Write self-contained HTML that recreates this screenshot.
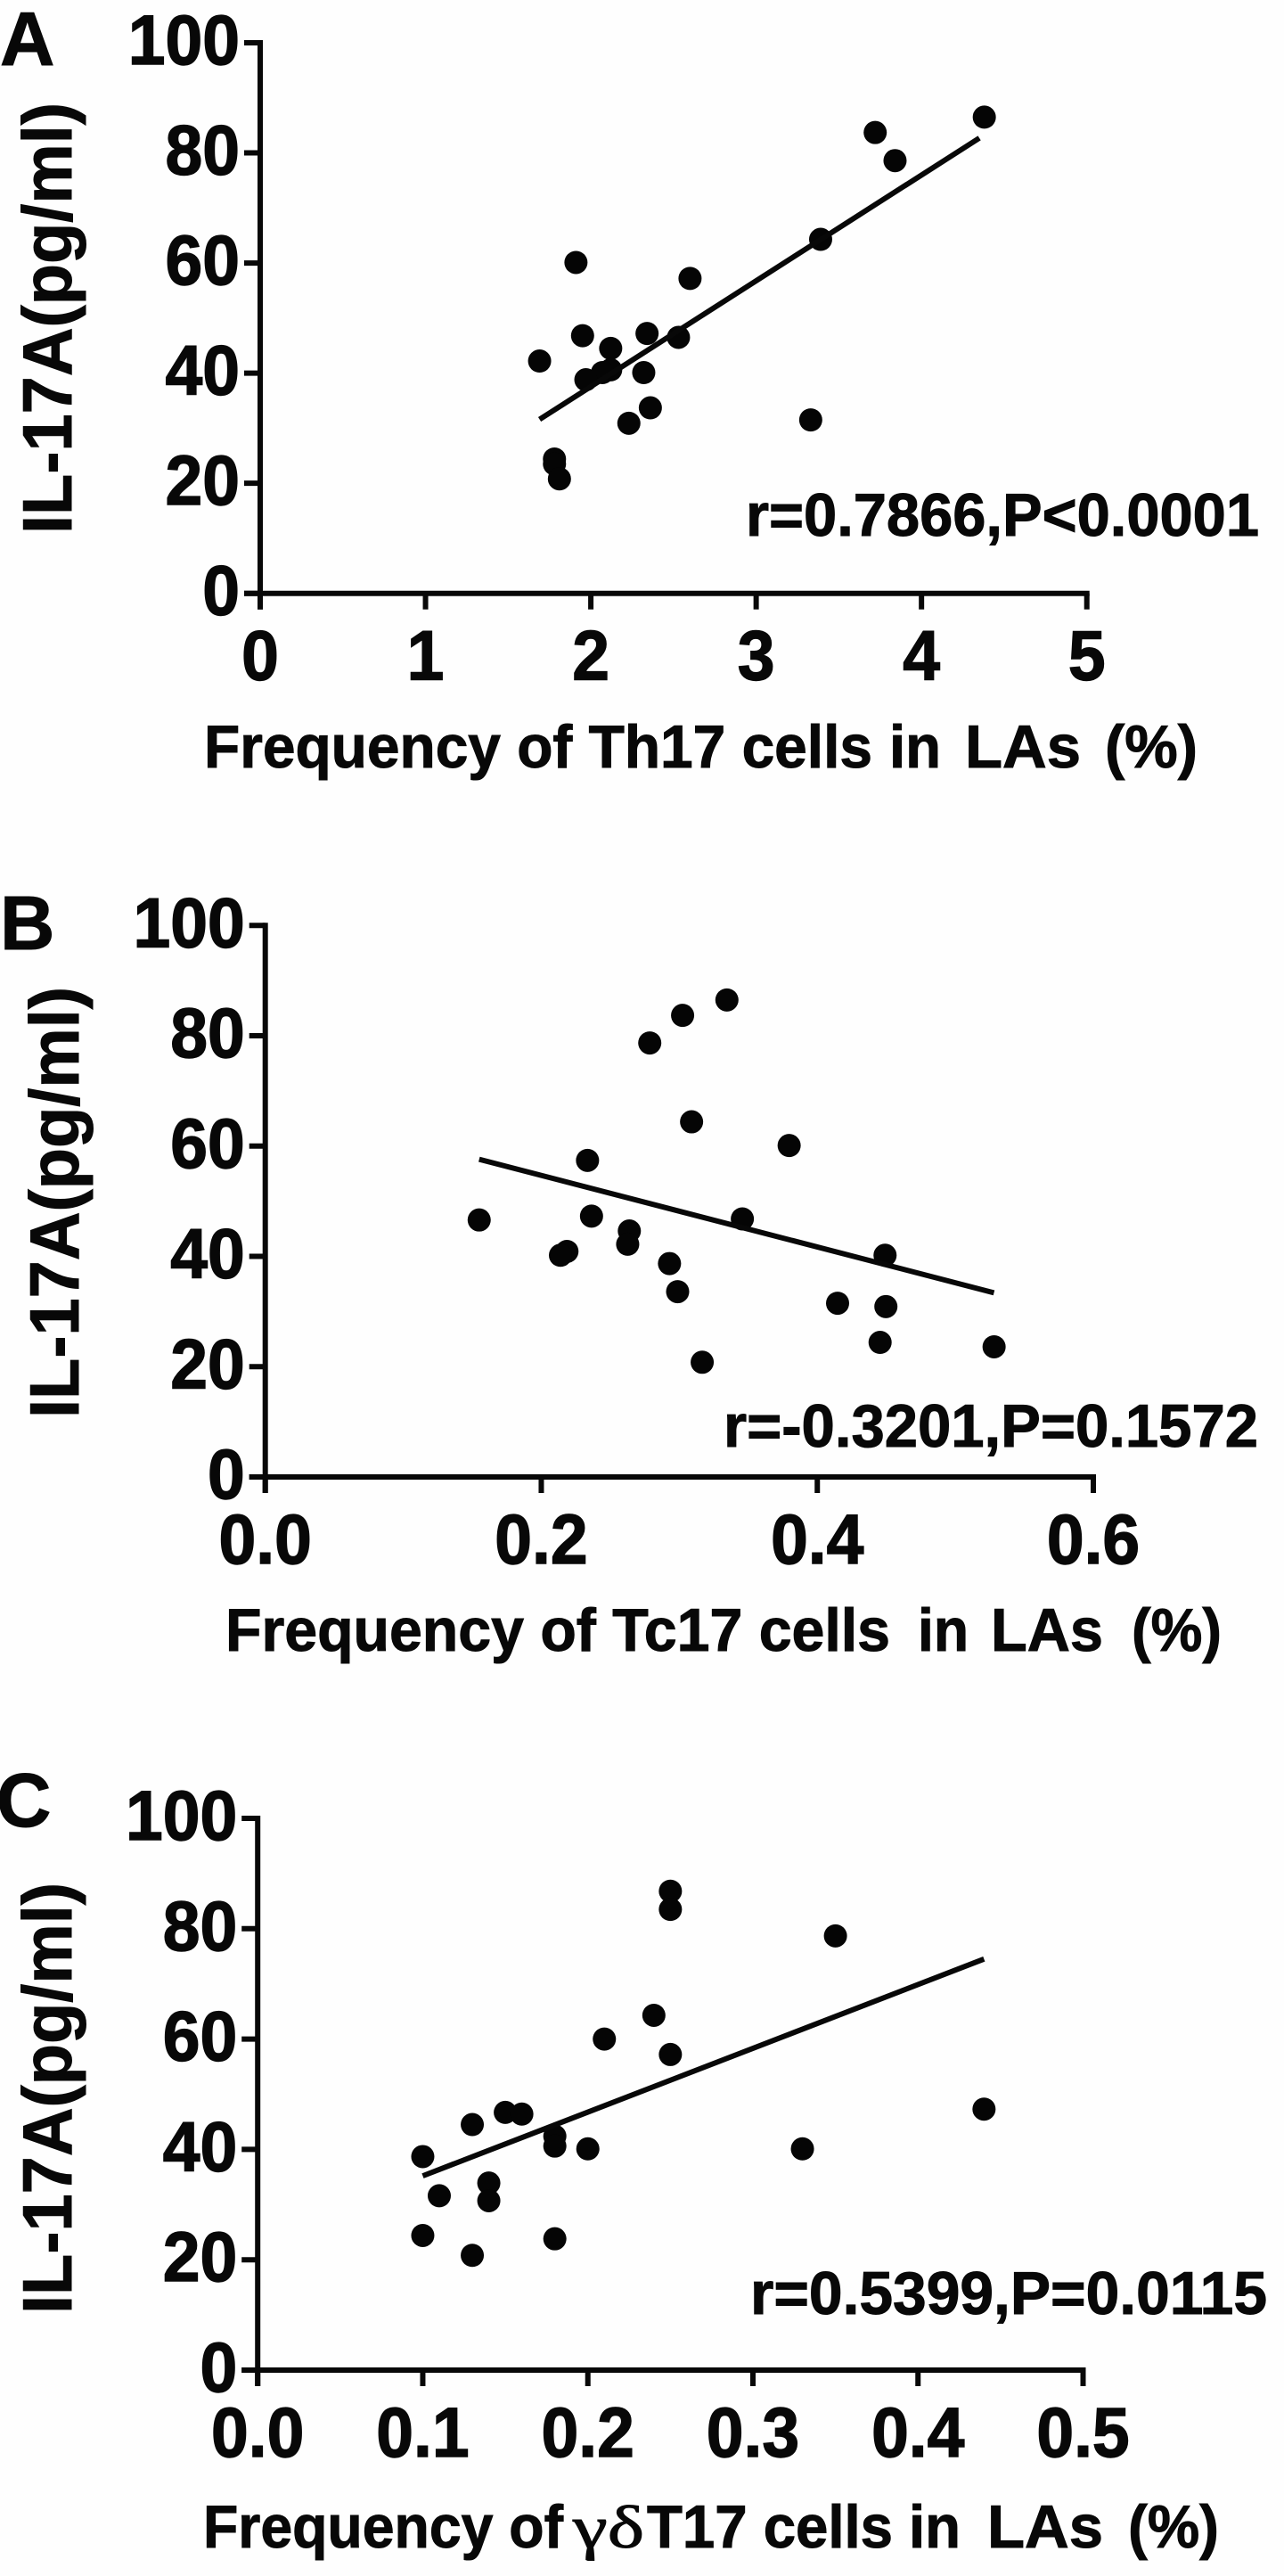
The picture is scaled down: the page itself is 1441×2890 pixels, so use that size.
<!DOCTYPE html>
<html lang="en">
<head>
<meta charset="utf-8">
<title>IL-17A correlation scatter plots</title>
<style>
html,body{margin:0;padding:0;background:#fff;width:1441px;height:2890px;overflow:hidden}
svg{display:block}
text{font-family:"Liberation Sans",Arial,sans-serif;font-weight:bold;fill:#080808;stroke:#080808;stroke-width:1;white-space:pre}
.tick{font-size:79px;stroke-width:1.4px}
.title{font-size:68px}
.stat{font-size:68px}
.letter{font-size:85px}
.ylab{font-size:78px}
</style>
</head>
<body>
<svg id="figure" xmlns="http://www.w3.org/2000/svg" width="1441" height="2890" viewBox="0 0 1441 2890">
  <rect x="0" y="0" width="1441" height="2890" fill="#fefefe"/>

  <g id="panel-a">
    <text class="letter" x="0" y="73">A</text>
    <text class="ylab" transform="translate(80,599) rotate(-90)" textLength="484" lengthAdjust="spacingAndGlyphs">IL-17A(pg/ml)</text>
    <text class="title" x="229" y="861" textLength="750" lengthAdjust="spacingAndGlyphs">Frequency of Th17 cells</text>
    <text class="title" x="998" y="861" textLength="58" lengthAdjust="spacingAndGlyphs">in</text>
    <text class="title" x="1083" y="861" textLength="130" lengthAdjust="spacingAndGlyphs">LAs</text>
    <text class="title" x="1240" y="861" textLength="104" lengthAdjust="spacingAndGlyphs">(%)</text>
    <text class="stat" x="837" y="601" textLength="576" lengthAdjust="spacingAndGlyphs">r=0.7866,P&lt;0.0001</text>
  </g>

  <g id="panel-b">
    <text class="letter" x="0" y="1065">B</text>
    <text class="ylab" transform="translate(88,1591) rotate(-90)" textLength="484" lengthAdjust="spacingAndGlyphs">IL-17A(pg/ml)</text>
    <text class="title" x="253" y="1852" textLength="746" lengthAdjust="spacingAndGlyphs">Frequency of Tc17 cells</text>
    <text class="title" x="1030" y="1852" textLength="57" lengthAdjust="spacingAndGlyphs">in</text>
    <text class="title" x="1112" y="1852" textLength="126" lengthAdjust="spacingAndGlyphs">LAs</text>
    <text class="title" x="1270" y="1852" textLength="101" lengthAdjust="spacingAndGlyphs">(%)</text>
    <text class="stat" x="812" y="1623" textLength="600" lengthAdjust="spacingAndGlyphs">r=-0.3201,P=0.1572</text>
  </g>

  <g id="panel-c">
    <text class="letter" x="-4" y="2049">C</text>
    <text class="ylab" transform="translate(80,2596) rotate(-90)" textLength="484" lengthAdjust="spacingAndGlyphs">IL-17A(pg/ml)</text>
    <text class="title" x="228" y="2858" textLength="404" lengthAdjust="spacingAndGlyphs">Frequency of</text>
    <text class="title" x="643" y="2858" textLength="80" lengthAdjust="spacingAndGlyphs" style="font-family:'Liberation Serif',serif;font-weight:normal">γδ</text>
    <text class="title" x="726" y="2858" textLength="276" lengthAdjust="spacingAndGlyphs">T17 cells</text>
    <text class="title" x="1020" y="2858" textLength="58" lengthAdjust="spacingAndGlyphs">in</text>
    <text class="title" x="1108" y="2858" textLength="130" lengthAdjust="spacingAndGlyphs">LAs</text>
    <text class="title" x="1266" y="2858" textLength="102" lengthAdjust="spacingAndGlyphs">(%)</text>
    <text class="stat" x="842" y="2596" textLength="580" lengthAdjust="spacingAndGlyphs">r=0.5399,P=0.0115</text>
  </g>
</svg>

<script>
// Shared y axis
const yTicks = ['0', '20', '40', '60', '80', '100'];

// Panel A
const xTicksA = ['0', '1', '2', '3', '4', '5'];
const th17Freq = [4.38, 3.72, 3.84, 3.39, 1.91, 2.60, 1.95, 2.34, 2.53, 2.12, 1.69, 2.32, 2.12, 2.07, 1.97, 2.36, 2.23, 3.33, 1.78, 1.78, 1.81];
const il17aA = [86.5, 83.7, 78.6, 64.3, 60.1, 57.2, 46.8, 47.2, 46.5, 44.5, 42.2, 40.1, 40.6, 40.1, 38.8, 33.7, 30.9, 31.5, 24.4, 23.5, 20.8];
const trendXA = [1.69, 4.35];
const trendYA = [31.6, 82.7];

// Panel B
const xTicksB = ['0.0', '0.2', '0.4', '0.6'];
const tc17Freq = [0.3345, 0.3024, 0.2786, 0.3089, 0.3796, 0.2335, 0.155, 0.2364, 0.3457, 0.2638, 0.2626, 0.2186, 0.2139, 0.4491, 0.2929, 0.2988, 0.4147, 0.4497, 0.4455, 0.5281, 0.3166];
const il17aB = [86.5, 83.7, 78.7, 64.4, 60.1, 57.4, 46.6, 47.3, 46.8, 44.6, 42.2, 40.9, 40.2, 40.2, 38.7, 33.6, 31.5, 30.9, 24.4, 23.6, 20.8];
const trendXB = [0.155, 0.528];
const trendYB = [57.6, 33.4];

// Panel C
const xTicksC = ['0.0', '0.1', '0.2', '0.3', '0.4', '0.5'];
const gdT17Freq = [0.25, 0.25, 0.35, 0.24, 0.21, 0.25, 0.44, 0.15, 0.16, 0.13, 0.18, 0.18, 0.20, 0.33, 0.10, 0.14, 0.14, 0.11, 0.10, 0.18, 0.13];
const il17aC = [86.8, 83.5, 78.7, 64.3, 60.0, 57.2, 47.3, 46.7, 46.4, 44.5, 42.4, 40.6, 40.1, 40.1, 38.7, 33.9, 30.7, 31.6, 24.4, 23.8, 20.8];
const trendXC = [0.10, 0.44];
const trendYC = [35.2, 74.5];

const NS = 'http://www.w3.org/2000/svg';

function shape(parent, tag, props) {
  const el = document.createElementNS(NS, tag);
  for (const k in props) el.setAttribute(k, props[k]);
  parent.appendChild(el);
  return el;
}

function narrow(text) {
  text.setAttribute('textLength', text.getComputedTextLength() * 0.95);
  text.setAttribute('lengthAdjust', 'spacingAndGlyphs');
}

function drawPanel(id, box, xTicks, xValues, yValues, trendX, trendY) {
  const group = document.getElementById(id);
  const xMax = parseFloat(xTicks[xTicks.length - 1]);
  const yMax = parseFloat(yTicks[yTicks.length - 1]);
  const xScale = function (v) { return box.left + (v / xMax) * (box.right - box.left); };
  const yScale = function (v) { return box.bottom - (v / yMax) * (box.bottom - box.top); };
  const sw = 6;

  const yAxis = shape(group, 'line', { x1: xScale(0), x2: xScale(0), y1: yScale(yMax) - sw / 2, y2: yScale(0) + 18, stroke: '#080808', 'stroke-width': sw });
  
  

  const xAxis = shape(group, 'line', { x1: xScale(0) - 18, x2: xScale(xMax) + sw / 2, y1: yScale(0), y2: yScale(0), stroke: '#080808', 'stroke-width': sw });
  
  

  yTicks.forEach(function (label) {
    const v = parseFloat(label);
    const mark = shape(group, 'line', { x1: xScale(0) - 18, x2: xScale(0), y1: yScale(v), y2: yScale(v), stroke: '#080808', 'stroke-width': sw });
    
    
    const text = shape(group, 'text', { x: xScale(0) - 23, y: yScale(v) + 24, 'text-anchor': 'end', class: 'tick' });
    text.textContent = label;
    narrow(text);
    
    
  });

  xTicks.forEach(function (label) {
    const v = parseFloat(label);
    const mark = shape(group, 'line', { x1: xScale(v), x2: xScale(v), y1: yScale(0), y2: yScale(0) + 18, stroke: '#080808', 'stroke-width': sw });
    
    
    const text = shape(group, 'text', { x: xScale(v), y: yScale(0) + 97, 'text-anchor': 'middle', class: 'tick' });
    text.textContent = label;
    narrow(text);
    
    
  });

  xValues.forEach(function (v, i) {
    const dot = shape(group, 'circle', { cx: xScale(v), cy: yScale(yValues[i]), r: 13, fill: '#050505' });
    
    
  });

  const fit = shape(group, 'line', { x1: xScale(trendX[0]), y1: yScale(trendY[0]), x2: xScale(trendX[1]), y2: yScale(trendY[1]), stroke: '#080808', 'stroke-width': 6 });
  
  
}

drawPanel('panel-a', { left: 292, right: 1219.7, top: 48, bottom: 665.7 }, xTicksA, th17Freq, il17aA, trendXA, trendYA);
drawPanel('panel-b', { left: 297.7, right: 1227, top: 1038.3, bottom: 1657 }, xTicksB, tc17Freq, il17aB, trendXB, trendYB);
drawPanel('panel-c', { left: 289.2, right: 1215.5, top: 2040, bottom: 2659 }, xTicksC, gdT17Freq, il17aC, trendXC, trendYC);
</script>
</body>
</html>
